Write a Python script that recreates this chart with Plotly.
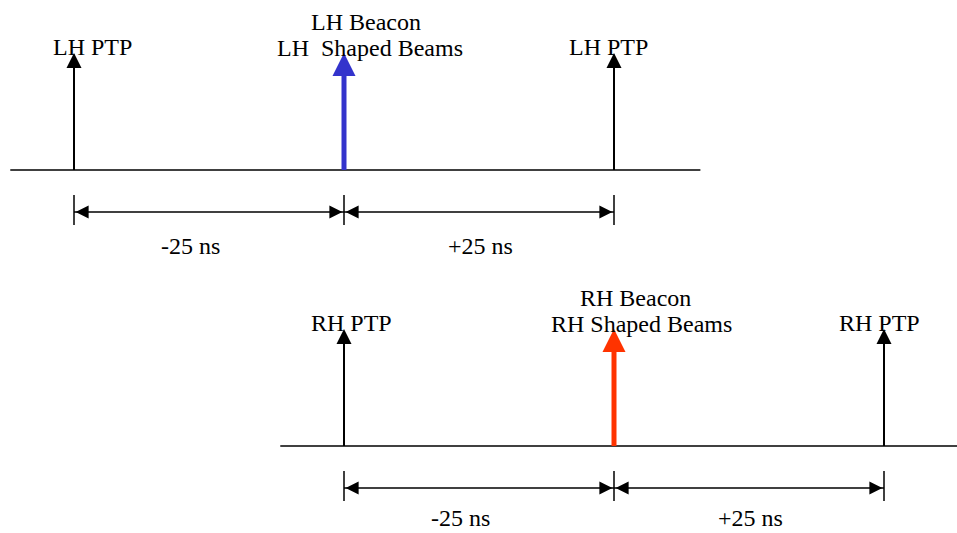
import plotly.graph_objects as go

# ---------------- data ----------------
timelines = ["LH", "RH"]
timeline_offset_ns = [0, 25]          # RH frame is shifted by +25 ns
pulse_times_ns = [-25, 0, 25]         # PTP, Beacon, PTP
pulse_kinds = ["PTP", "Beacon", "PTP"]
beacon_colors = ["#3333cc", "#ff3300"]
ptp_labels = ["LH PTP", "RH PTP"]
beacon_labels = [["LH Beacon", "LH  Shaped Beams"], ["RH Beacon", "RH Shaped Beams"]]
span_edges_ns = [(-25, 0), (0, 25)]
span_labels = ["-25 ns", "+25 ns"]

# ---------------- layout constants ----------------
W, H = 957, 533
PX_PER_NS = 10.8
X0_PX = 344
FONT = dict(family="Liberation Serif, Times New Roman, serif", size=24, color="black")
baseline_y = [170, 446]
baseline_extent = (-30.9, 33.0)
arrow_len = 117
ptp_head = 15
beacon_head = 23
dim_head = 13
tick_top, tick_bot, dim_y = 25, 55, 42
dim_label_y = [76, 72]
ptp_label_dx = [[1.7, -0.55], [0.65, -0.4]]     # ns offsets, left / right PTP
beacon_label_dx = [[2.0, 2.4], [2.0, 2.5]]
beacon_label_dy = [-148, -122]
ptp_label_dy = -123
span_label_dx = [-1.7, 0.15]

fig = go.Figure()
ann = []

def line(xs, ys, color="black", width=1.5):
    fig.add_trace(go.Scatter(x=xs, y=ys, mode="lines", line=dict(color=color, width=width),
                             hoverinfo="skip", showlegend=False, cliponaxis=False))

def head(x, y, symbol, size, color="black"):
    fig.add_trace(go.Scatter(x=[x], y=[y], mode="markers",
                             marker=dict(symbol=symbol, size=size, color=color, line=dict(width=0)),
                             hoverinfo="skip", showlegend=False, cliponaxis=False))

for i, name in enumerate(timelines):
    off = timeline_offset_ns[i]
    base = baseline_y[i]
    line([off + baseline_extent[0], off + baseline_extent[1]], [base, base], width=1.5)
    ptp_idx = 0
    for t, kind in zip(pulse_times_ns, pulse_kinds):
        x = off + t
        tip = base - arrow_len
        if kind == "PTP":
            line([x, x], [base, tip + ptp_head - 1], width=2)
            head(x, tip, "arrow-up", ptp_head)
            ann.append(dict(x=x + ptp_label_dx[i][ptp_idx], y=base + ptp_label_dy,
                            text=ptp_labels[i]))
            ptp_idx += 1
        else:
            c = beacon_colors[i]
            line([x, x], [base, tip + beacon_head - 1], color=c, width=5)
            head(x, tip, "arrow-up", beacon_head, color=c)
            for k, txt in enumerate(beacon_labels[i]):
                ann.append(dict(x=x + beacon_label_dx[i][k], y=base + beacon_label_dy[k], text=txt))
        line([x, x], [base + tick_top, base + tick_bot], width=1.5)
    for (a, b), lab, dx in zip(span_edges_ns, span_labels, span_label_dx):
        xa, xb = off + a, off + b
        line([xa, xb], [base + dim_y, base + dim_y], width=1.5)
        head(xa + 0.15, base + dim_y, "arrow-left", dim_head)
        head(xb - 0.15, base + dim_y, "arrow-right", dim_head)
        ann.append(dict(x=(xa + xb) / 2 + dx, y=base + dim_label_y[i], text=lab))

for a in ann:
    a.update(showarrow=False, font=FONT, xanchor="center", yanchor="middle")

fig.update_layout(
    width=W, height=H, margin=dict(l=0, r=0, t=0, b=0),
    paper_bgcolor="white", plot_bgcolor="white",
    xaxis=dict(range=[-X0_PX / PX_PER_NS, (W - X0_PX) / PX_PER_NS], visible=False, fixedrange=True),
    yaxis=dict(range=[H, 0], visible=False, fixedrange=True),
    annotations=ann, showlegend=False,
)
fig.write_html("out.html", config={"displayModeBar": False},
               post_script="document.body.style.margin='0px';document.body.style.overflow='hidden';")
